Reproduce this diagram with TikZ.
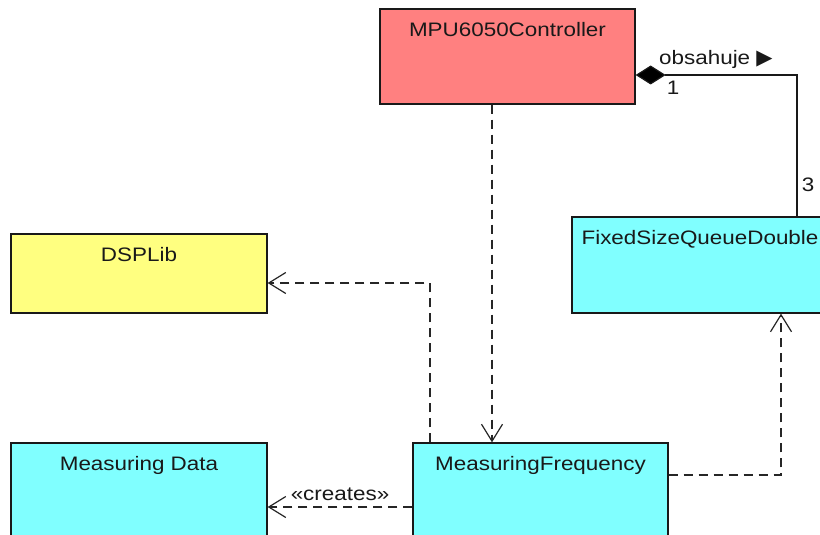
\documentclass[tikz,border=0pt]{standalone}
\usepackage{fontspec}
\setmainfont[FakeStretch=1.15]{Liberation Sans}
\newfontfamily\symfont{DejaVu Sans}
\usetikzlibrary{arrows.meta,calc}
\definecolor{boxred}{RGB}{255,128,128}
\definecolor{boxcyan}{RGB}{128,255,255}
\definecolor{boxyellow}{RGB}{255,255,128}
\begin{document}
\begin{tikzpicture}[x=1pt,y=-1pt,
  box/.style={draw=black!90,line width=1.3pt,rectangle,inner sep=0pt,anchor=center},
  title/.style={anchor=base,inner sep=0pt,text=black!90,font=\fontsize{19.5}{23}\selectfont},
  lab/.style={inner sep=0pt,text=black!90,font=\fontsize{19.5}{23}\selectfont},
  dep/.style={draw=black!85,line width=1.2pt,dash pattern=on 9pt off 6pt,
    -{Straight Barb[length=17pt,width=21pt,line width=1.2pt]}},
  comp/.style={draw=black!90,line width=1.2pt,
    {Diamond[length=30pt,width=19pt,fill=black]}-}
]
\useasboundingbox (0,0) rectangle (820,535);
\clip (0,0) rectangle (820,535);
\fill[white] (0,0) rectangle (820,535);

% boxes
\node[box,fill=boxred,minimum width=255pt,minimum height=95pt] (mpu) at (507.5,56.5) {};
\node[box,fill=boxcyan,minimum width=256pt,minimum height=96pt] (fsqd) at (700,265) {};
\node[box,fill=boxyellow,minimum width=256pt,minimum height=79pt] (dsp) at (139,273.5) {};
\node[box,fill=boxcyan,minimum width=256pt,minimum height=100pt] (md) at (139,493) {};
\node[box,fill=boxcyan,minimum width=255pt,minimum height=100pt] (mf) at (540.5,493) {};

% titles
\node[title] (mpuT) at ($(mpu.north)+(0,28)$) {MPU6050Controller};
\node[title] (fsqdT) at ($(fsqd.north)+(0,28)$) {FixedSizeQueueDouble};
\node[title] (dspT) at ($(dsp.north)+(0,28)$) {DSPLib};
\node[title] (mdT) at ($(md.north)+(0,28)$) {Measuring Data};
\node[title] (mfT) at ($(mf.north)+(0,28)$) {MeasuringFrequency};

% dependencies
\draw[dep] ($(mpu.south)+(-15.5,0)$) -- ($(mf.north)+(-48.5,0)$);
\draw[dep] ($(mf.north)+(-110.5,0)$) |- ($(dsp.east)+(0,9.5)$);
\draw[dep] ($(mf.east)+(0,-18)$) -| ($(fsqd.south)+(81,0)$);
\draw[dep] ($(mf.west)+(0,14)$) -- ($(md.east)+(0,14)$);
\node[lab] (creates) at (340,494) {«creates»};

% composition
\draw[comp] ($(mpu.east)+(0,18.5)$) -| ($(fsqd.north)+(97,0)$);
\node[lab,anchor=base west] (obs) at (659,65) {obsahuje {\symfont\fontsize{21}{24}\selectfont ▶}};
\node[lab] (one) at (673,88) {1};
\node[lab] (three) at (808,185) {3};
\end{tikzpicture}
\end{document}
